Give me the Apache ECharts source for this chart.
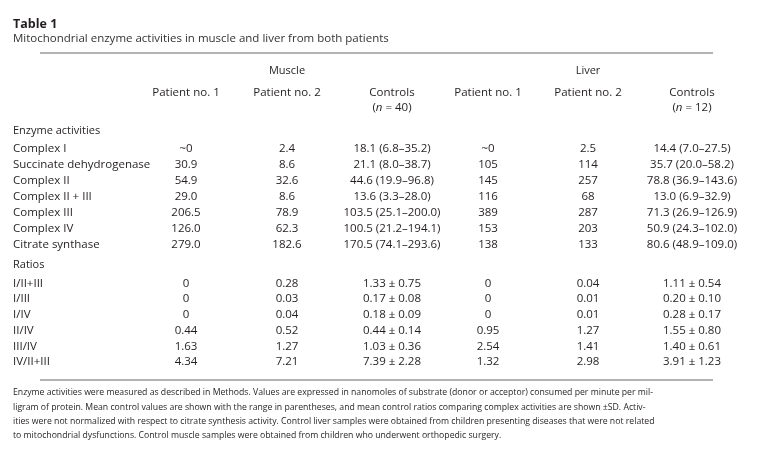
<!DOCTYPE html>
<html><head><meta charset="utf-8">
<script src="https://cdn.jsdelivr.net/npm/echarts@6/dist/echarts.min.js"></script>
<style>html,body{margin:0;padding:0;background:#fff}#c{width:757px;height:449px}</style>
</head><body><div id="c"></div>
<script>
// ---------- text & data ----------
const tableTitle = 'Table 1';
const tableSubtitle = 'Mitochondrial enzyme activities in muscle and liver from both patients';
const tissues = ['Muscle', 'Liver'];
const columnHeaders = ['Patient no. 1', 'Patient no. 2', 'Controls'];
const controlCounts = [40, 12];
const sectionNames = ['Enzyme activities', 'Ratios'];

const enzymeNames = ['Complex I', 'Succinate dehydrogenase', 'Complex II', 'Complex II + III', 'Complex III', 'Complex IV', 'Citrate synthase'];
// null = "~0"
const muscleP1Enz = [null, 30.9, 54.9, 29.0, 206.5, 126.0, 279.0];
const muscleP2Enz = [2.4, 8.6, 32.6, 8.6, 78.9, 62.3, 182.6];
const muscleCtlMean = [18.1, 21.1, 44.6, 13.6, 103.5, 100.5, 170.5];
const muscleCtlLow = [6.8, 8.0, 19.9, 3.3, 25.1, 21.2, 74.1];
const muscleCtlHigh = [35.2, 38.7, 96.8, 28.0, 200.0, 194.1, 293.6];
const liverP1Enz = [null, 105, 145, 116, 389, 153, 138];
const liverP2Enz = [2.5, 114, 257, 68, 287, 203, 133];
const liverCtlMean = [14.4, 35.7, 78.8, 13.0, 71.3, 50.9, 80.6];
const liverCtlLow = [7.0, 20.0, 36.9, 6.9, 26.9, 24.3, 48.9];
const liverCtlHigh = [27.5, 58.2, 143.6, 32.9, 126.9, 102.0, 109.0];

const ratioNames = ['I/II+III', 'I/III', 'I/IV', 'II/IV', 'III/IV', 'IV/II+III'];
const muscleP1Ratio = [0, 0, 0, 0.44, 1.63, 4.34];
const muscleP2Ratio = [0.28, 0.03, 0.04, 0.52, 1.27, 7.21];
const muscleCtlRatioMean = [1.33, 0.17, 0.18, 0.44, 1.03, 7.39];
const muscleCtlRatioSD = [0.75, 0.08, 0.09, 0.14, 0.36, 2.28];
const liverP1Ratio = [0, 0, 0, 0.95, 2.54, 1.32];
const liverP2Ratio = [0.04, 0.01, 0.01, 1.27, 1.41, 2.98];
const liverCtlRatioMean = [1.11, 0.20, 0.28, 1.55, 1.40, 3.91];
const liverCtlRatioSD = [0.54, 0.10, 0.17, 0.80, 0.61, 1.23];

const footnoteLines = [
  'Enzyme activities were measured as described in Methods. Values are expressed in nanomoles of substrate (donor or acceptor) consumed per minute per mil-',
  'ligram of protein. Mean control values are shown with the range in parentheses, and mean control ratios comparing complex activities are shown \u00b1SD. Activ-',
  'ities were not normalized with respect to citrate synthesis activity. Control liver samples were obtained from children presenting diseases that were not related',
  'to mitochondrial dysfunctions. Control muscle samples were obtained from children who underwent orthopedic surgery.'
];

// ---------- layout (positions / sizes / styles) ----------
const W = 757, H = 449;
const FONT = '"Open Sans", "Noto Sans", sans-serif';
const TXT = '#231f20';
const L = {
  labelX: 13,
  colX: [186, 287, 392, 488, 588, 692],
  tissueY: 71, headY: 93, nY: 108,
  enzHeadY: 131, enzY0: 149, enzStep: 15.9,
  ratioHeadY: 264.5, ratioY0: 283.5, ratioStep: 15.7,
  ruleTop: 53, ruleBottom: 380, ruleX0: 40, ruleX1: 713,
  footY0: 393, footStep: 14.2,
  bodySize: 11.5, headSize: 11.5, footSize: 8.7
};

// ---------- formatting helpers ----------
const fmtEnz = (v, dec) => v === null ? '~0' : (dec ? v.toFixed(1) : String(v));
const fmtLiver = v => v === null ? '~0' : (Number.isInteger(v) ? String(v) : v.toFixed(1));
const fmtRatio = v => v === 0 ? '0' : v.toFixed(2);
const fmtRange = (m, lo, hi) => m.toFixed(1) + ' (' + lo.toFixed(1) + '\u2013' + hi.toFixed(1) + ')';
const fmtSD = (m, sd) => m.toFixed(2) + ' \u00b1 ' + sd.toFixed(2);

// ---------- build cells ----------
const cells = []; // {x, y, text, align, size, weight}
function add(x, y, text, align, size, weight) { cells.push({ x, y, text, align: align || 'center', size: size || L.bodySize, weight: weight || 'normal' }); }

// headers
add(L.colX[1], L.tissueY, tissues[0], 'center', 11);
add(L.colX[4], L.tissueY, tissues[1], 'center', 11);
for (let t = 0; t < 2; t++) {
  for (let c = 0; c < 3; c++) add(L.colX[t * 3 + c], L.headY, columnHeaders[c], 'center', L.headSize);
  add(L.colX[t * 3 + 2], L.nY, '({i|n} = ' + controlCounts[t] + ')', 'center', L.headSize);
}
// enzyme section
add(L.labelX, L.enzHeadY, sectionNames[0], 'left', 11, 500);
enzymeNames.forEach((name, i) => {
  const y = L.enzY0 + i * L.enzStep;
  add(L.labelX, y, name, 'left');
  add(L.colX[0], y, fmtEnz(muscleP1Enz[i], true));
  add(L.colX[1], y, fmtEnz(muscleP2Enz[i], true));
  add(L.colX[2], y, fmtRange(muscleCtlMean[i], muscleCtlLow[i], muscleCtlHigh[i]));
  add(L.colX[3], y, fmtLiver(liverP1Enz[i]));
  add(L.colX[4], y, fmtLiver(liverP2Enz[i]));
  add(L.colX[5], y, fmtRange(liverCtlMean[i], liverCtlLow[i], liverCtlHigh[i]));
});
// ratios section
add(L.labelX, L.ratioHeadY, sectionNames[1], 'left', 11, 500);
ratioNames.forEach((name, i) => {
  const y = L.ratioY0 + i * L.ratioStep;
  add(L.labelX, y, name, 'left');
  add(L.colX[0], y, fmtRatio(muscleP1Ratio[i]));
  add(L.colX[1], y, fmtRatio(muscleP2Ratio[i]));
  add(L.colX[2], y, fmtSD(muscleCtlRatioMean[i], muscleCtlRatioSD[i]));
  add(L.colX[3], y, fmtRatio(liverP1Ratio[i]));
  add(L.colX[4], y, fmtRatio(liverP2Ratio[i]));
  add(L.colX[5], y, fmtSD(liverCtlRatioMean[i], liverCtlRatioSD[i]));
});

// ---------- chart ----------
const chart = echarts.init(document.getElementById('c'), null, { renderer: 'canvas' });
const graphics = [
  { type: 'text', x: 13, y: 24, style: { text: tableTitle, font: 'bold 12.5px ' + FONT, fill: TXT, verticalAlign: 'middle' } },
  { type: 'text', x: 13, y: 38.5, style: { text: tableSubtitle, font: '11.5px ' + FONT, fill: '#333', verticalAlign: 'middle' } },
  { type: 'line', shape: { x1: L.ruleX0, y1: L.ruleTop, x2: L.ruleX1, y2: L.ruleTop }, style: { stroke: '#9a9a9a', lineWidth: 1.5 } },
  { type: 'line', shape: { x1: L.ruleX0, y1: L.ruleBottom, x2: L.ruleX1, y2: L.ruleBottom }, style: { stroke: '#9a9a9a', lineWidth: 1.5 } }
];
footnoteLines.forEach((t, i) => graphics.push({
  type: 'text', x: 13, y: L.footY0 + i * L.footStep,
  style: { text: t, font: L.footSize + 'px ' + FONT, fill: TXT, verticalAlign: 'middle' }
}));

chart.setOption({
  animation: false,
  backgroundColor: '#fff',
  grid: { left: 0, right: 0, top: 0, bottom: 0 },
  xAxis: { type: 'value', min: 0, max: W, show: false },
  yAxis: { type: 'value', min: 0, max: H, inverse: true, show: false },
  graphic: graphics,
  series: [{
    type: 'custom',
    coordinateSystem: 'cartesian2d',
    silent: true,
    data: cells.map(c => [c.x, c.y]),
    renderItem: function (params, api) {
      const c = cells[params.dataIndex];
      const p = api.coord([api.value(0), api.value(1)]);
      return {
        type: 'text', x: p[0], y: p[1],
        style: {
          text: c.text, fill: TXT,
          font: c.weight + ' ' + c.size + 'px ' + FONT,
          align: c.align, verticalAlign: 'middle',
          rich: { i: { fontStyle: 'italic', fontSize: c.size, fontFamily: FONT, fill: TXT } }
        }
      };
    }
  }]
});
</script></body></html>
